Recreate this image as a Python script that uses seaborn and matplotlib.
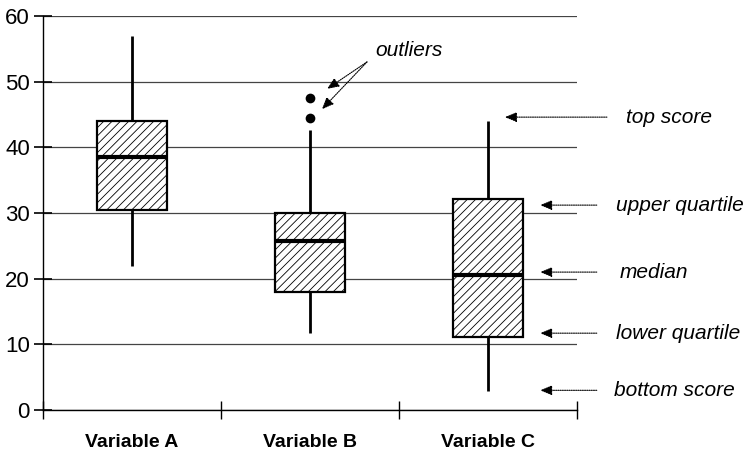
import matplotlib
matplotlib.use("Agg")
import matplotlib.pyplot as plt
import seaborn as sns
import pandas as pd

# ---- data ----
categories = ["Variable A", "Variable B", "Variable C"]
lows = [22.0, 11.7, 2.9]
q1s = [30.4, 18.0, 11.1]
medians = [38.5, 25.7, 20.5]
q3s = [44.0, 30.0, 32.1]
highs = [57.0, 42.6, 44.0]
outlier_cats = ["Variable B", "Variable B"]
outlier_values = [47.5, 44.5]
yticks = [0, 10, 20, 30, 40, 50, 60]

rows = []
for c, lo, a, m, b, hi in zip(categories, lows, q1s, medians, q3s, highs):
    for v in (lo, a, m, b, hi):
        rows.append({"variable": c, "value": v})
df = pd.DataFrame(rows)
df_out = pd.DataFrame({"variable": outlier_cats, "value": outlier_values})

sns.set_style("white")
plt.rcParams["font.family"] = ["Liberation Sans", "DejaVu Sans"]
plt.rcParams["hatch.linewidth"] = 0.6
plt.rcParams["text.color"] = "black"
plt.rcParams["xtick.color"] = "black"
plt.rcParams["ytick.color"] = "black"

fig = plt.figure(figsize=(7.52, 4.54), dpi=100)
ax = fig.add_axes([43 / 752, 44 / 454, 534 / 752, 394 / 454])

sns.boxplot(data=df, x="variable", y="value", order=categories, whis=(0, 100),
            width=0.39, color="white", linecolor="black", linewidth=1.6,
            showcaps=False, fliersize=0,
            whiskerprops={"linewidth": 2.0},
            medianprops={"linewidth": 3.0}, ax=ax, zorder=3)
for p in ax.patches:
    p.set_hatch("////")
    p.set_edgecolor("black")
    p.set_facecolor("white")

sns.stripplot(data=df_out, x="variable", y="value", order=categories,
              jitter=False, color="black", size=7, ax=ax, zorder=4)

ax.set_xlim(-0.5, 2.5)
ax.set_ylim(0, 60)
ax.set_yticks(yticks)
ax.set_xlabel("")
ax.set_ylabel("")
ax.yaxis.grid(True, color="#444444", linewidth=0.9)
ax.xaxis.grid(False)
ax.set_axisbelow(True)
for s in ("top", "right"):
    ax.spines[s].set_visible(False)
for s in ("left", "bottom"):
    ax.spines[s].set_color("black")
    ax.spines[s].set_linewidth(1.0)

ax.set_xticks([-0.5, 0.5, 1.5, 2.5], minor=True)
ax.tick_params(axis="x", which="minor", bottom=True, direction="inout",
               length=13, width=1.0, color="black")
ax.tick_params(axis="x", which="major", bottom=True, length=0, pad=17,
               labelsize=14, labelcolor="black")
for t in ax.get_xticklabels():
    t.set_fontweight("bold")
ax.tick_params(axis="y", which="major", left=True, direction="inout", length=13,
               width=1.2, pad=3, labelsize=16, color="black", labelcolor="black")

# ---- annotations ----
tr = ax.get_yaxis_transform()
arrow = dict(arrowstyle="-|>,head_length=0.6,head_width=0.25",
             linestyle=(0, (1, 1)), color="black", lw=0.8,
             mutation_scale=12, shrinkA=0, shrinkB=0)
labels = ["top score", "upper quartile", "median", "lower quartile", "bottom score"]
label_y = [44.6, 31.2, 21.0, 11.7, 3.0]
tail_x = [1.056, 1.037, 1.037, 1.037, 1.037]
head_x = [0.865, 0.931, 0.931, 0.931, 0.931]
text_x = [1.092, 1.073, 1.080, 1.073, 1.069]
for lab, y, tx, hx, xx in zip(labels, label_y, tail_x, head_x, text_x):
    ax.annotate("", xy=(hx, y), xytext=(tx, y), xycoords=tr, textcoords=tr,
                arrowprops=arrow, annotation_clip=False)
    ax.text(xx, y, lab, transform=tr, ha="left", va="center",
            fontsize=15, style="italic", clip_on=False)

ax.text(1.365, 54.8, "outliers", ha="left", va="center", fontsize=15,
        style="italic")
for hx, hy in [(1.096, 48.9), (1.067, 45.8)]:
    ax.annotate("", xy=(hx, hy), xytext=(1.32, 53.0), arrowprops=arrow)

fig.savefig("out.png", dpi=100)
